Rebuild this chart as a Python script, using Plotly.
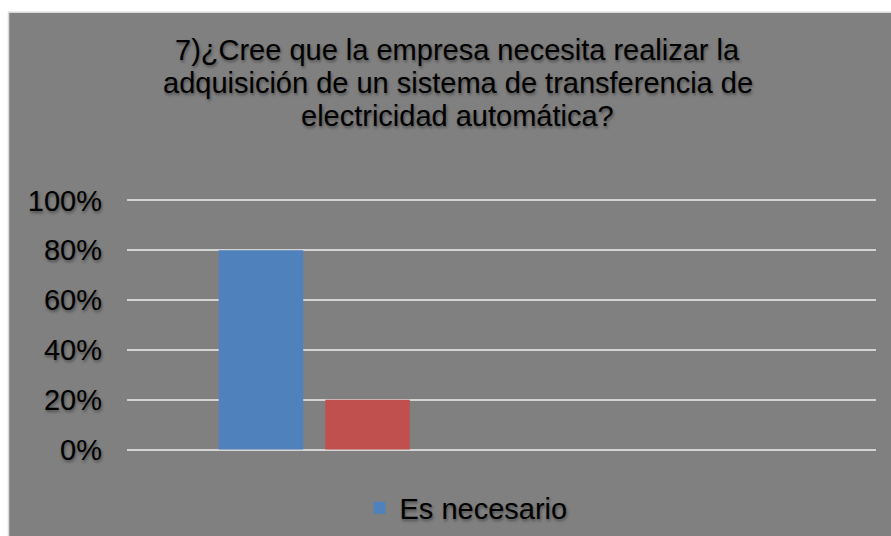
import plotly.graph_objects as go

title_lines = [
    "7)¿Cree que la empresa necesita realizar la",
    "adquisición de un sistema de transferencia de",
    "electricidad automática?",
]
categories = ["Respuesta", " "]
series_names = ["Es necesario", "No es necesario"]
series_values = [[0.8, None], [0.2, None]]
series_colors = ["#4f81bd", "#c0504d"]
show_in_legend = [True, False]
tick_values = [0, 0.2, 0.4, 0.6, 0.8, 1.0]
tick_labels = ["0%", "20%", "40%", "60%", "80%", "100%"]

W, H = 891, 536
YMIN, YMAX = -0.01, 1.01
unit = 249.5  # px per 100%
plot_left, plot_right = 127, 876
plot_top = 200 - (YMAX - 1) * unit
plot_bottom = 449.5 - YMIN * unit
L, R, T, B = plot_left, W - plot_right, plot_top, H - plot_bottom
pw = plot_right - plot_left
ph = plot_bottom - plot_top


def px_x(x):  # page px -> paper
    return (x - plot_left) / pw


def px_y(y):
    return (plot_bottom - y) / ph


FONT = "Liberation Sans, Arial, sans-serif"
SHADOW = "1px 2px 3px rgba(0,0,0,0.4)"

fig = go.Figure()
for name, vals, col, sl in zip(series_names, series_values, series_colors, show_in_legend):
    fig.add_trace(go.Bar(x=categories, y=vals, name=name, marker=dict(color=col, line=dict(width=0)),
                         showlegend=sl, hoverinfo="skip"))

annotations = []
for i, line in enumerate(title_lines):
    annotations.append(dict(text=line, xref="paper", yref="paper", x=px_x(457.5), y=px_y(49 + 33 * i),
                            xanchor="center", yanchor="middle", showarrow=False,
                            font=dict(family=FONT, size=29, color="black", shadow=SHADOW)))

fig.update_layout(
    width=W, height=H,
    margin=dict(l=L, r=R, t=T, b=B, autoexpand=False),
    paper_bgcolor="white",
    plot_bgcolor="rgba(0,0,0,0)",
    barmode="group",
    bargap=0.431,
    bargroupgap=0.2066,
    font=dict(family=FONT, color="black"),
    annotations=annotations,
    shapes=[dict(type="rect", xref="paper", yref="paper", layer="below",
                 x0=px_x(8.5), x1=px_x(900), y0=px_y(545), y1=px_y(11.5),
                 fillcolor="#808080", line=dict(color="#d9d9d9", width=1.5))],
    showlegend=True,
    legend=dict(orientation="h", x=px_x(466), y=px_y(508), xanchor="center", yanchor="middle",
                font=dict(family=FONT, size=29, color="black", shadow=SHADOW),
                bgcolor="rgba(0,0,0,0)", itemsizing="constant", itemwidth=30),
    xaxis=dict(type="category", categoryorder="array", categoryarray=categories,
               range=[-0.5, 1.5], showticklabels=False, showgrid=False, zeroline=False,
               showline=False, ticks=""),
    yaxis=dict(range=[YMIN, YMAX], tickvals=tick_values, ticktext=tick_labels,
               showgrid=True, gridcolor="#d4d4d4", gridwidth=2, zeroline=False, showline=False,
               ticks="", ticklabelstandoff=24,
               tickfont=dict(family=FONT, size=29, color="black", shadow=SHADOW)),
)

fig.write_html("out.html", config={"displayModeBar": False},
               post_script="document.body.style.margin='0';document.body.style.overflow='hidden';")
